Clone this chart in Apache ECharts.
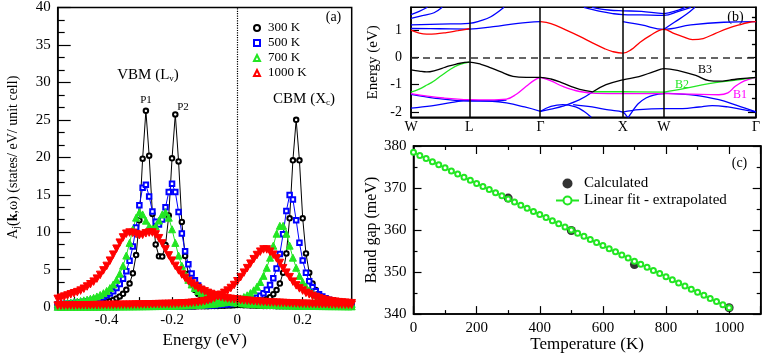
<!DOCTYPE html>
<html>
<head>
<meta charset="utf-8">
<script src="https://cdn.jsdelivr.net/npm/echarts@6/dist/echarts.min.js"></script>
<style>
  html, body { margin: 0; padding: 0; background: #fff; }
  #main { width: 763px; height: 354px; }
</style>
</head>
<body>
<div id="main"></div>
<script>
// ---------- panel (a): spectral functions A_j(k,0) ----------
const energy = [
  -0.55,-0.54,-0.53,-0.52,-0.51,-0.50,-0.49,-0.48,-0.47,-0.46,
  -0.45,-0.44,-0.43,-0.42,-0.41,-0.40,-0.39,-0.38,-0.37,-0.36,
  -0.35,-0.34,-0.33,-0.32,-0.31,-0.30,-0.29,-0.28,-0.27,-0.26,
  -0.25,-0.24,-0.23,-0.22,-0.21,-0.20,-0.19,-0.18,-0.17,-0.16,
  -0.15,-0.14,-0.13,-0.12,-0.11,-0.10,-0.09,-0.08,-0.07,-0.06,
  -0.05,-0.04,-0.03,-0.02,-0.01,0.00,0.01,0.02,0.03,0.04,
  0.05,0.06,0.07,0.08,0.09,0.10,0.11,0.12,0.13,0.14,
  0.15,0.16,0.17,0.18,0.19,0.20,0.21,0.22,0.23,0.24,
  0.25,0.26,0.27,0.28,0.29,0.30,0.31,0.32,0.33,0.34,
  0.35
];
const vbm300 = [
  0.17,0.18,0.19,0.20,0.22,0.24,0.26,0.28,0.31,0.34,
  0.38,0.42,0.47,0.53,0.61,0.70,0.81,0.96,1.15,1.42,
  1.78,2.31,3.14,4.51,6.94,11.58,19.82,26.2,20.21,12.43,
  8.36,6.78,6.75,8.28,12.24,19.86,25.72,19.45,11.37,6.83,
  4.44,3.10,2.28,1.76,1.40,1.14,0.95,0.80,0.69,0.60,
  0.53,0.47,0.42,0.37,0.34,0.31,0.28,0.26,0.24,0.22,
  0.20,0.19,0.18,0.16,0.15,0.145,0.14,0.13,0.125,0.12,
  0.11,0.105,0.10,0.095,0.09,0.09,0.085,0.08,0.08,0.075,
  0.075,0.07,0.07,0.068,0.066,0.064,0.062,0.06,0.058,0.056,
  0.054
];
const cbm300 = [
  0.017,0.017,0.018,0.018,0.019,0.019,0.02,0.02,0.021,0.022,
  0.023,0.023,0.024,0.025,0.026,0.027,0.028,0.029,0.03,0.031,
  0.032,0.033,0.035,0.036,0.037,0.039,0.04,0.042,0.044,0.047,
  0.049,0.051,0.054,0.056,0.059,0.062,0.066,0.069,0.073,0.078,
  0.083,0.088,0.094,0.10,0.107,0.115,0.123,0.133,0.144,0.156,
  0.169,0.185,0.203,0.224,0.248,0.276,0.309,0.348,0.395,0.452,
  0.52,0.61,0.72,0.87,1.07,1.33,1.72,2.28,3.15,4.6,
  7.16,11.86,19.6,25.0,19.6,11.86,7.16,4.6,3.15,2.28,
  1.72,1.33,1.07,0.87,0.72,0.61,0.52,0.45,0.40,0.35,
  0.31
];
const vbm500 = [
  0.37,0.40,0.42,0.46,0.49,0.54,0.58,0.64,0.70,0.77,
  0.85,0.95,1.06,1.20,1.36,1.57,1.82,2.13,2.55,3.08,
  3.80,4.79,6.18,8.09,10.63,13.59,15.94,16.32,14.78,12.76,
  11.38,11.02,11.69,13.34,15.36,16.46,15.37,12.70,9.81,7.45,
  5.71,4.47,3.57,2.90,2.41,2.03,1.74,1.50,1.31,1.15,
  1.03,0.92,0.83,0.75,0.68,0.62,0.57,0.52,0.48,0.45,
  0.41,0.39,0.36,0.34,0.31,0.30,0.28,0.26,0.25,0.23,
  0.22,0.21,0.20,0.19,0.18,0.17,0.165,0.16,0.15,0.145,
  0.14,0.135,0.13,0.125,0.12,0.12,0.115,0.11,0.11,0.105,
  0.10
];
const cbm500 = [
  0.029,0.03,0.03,0.031,0.032,0.033,0.034,0.035,0.036,0.038,
  0.039,0.04,0.041,0.043,0.044,0.046,0.048,0.049,0.051,0.053,
  0.055,0.058,0.06,0.062,0.065,0.068,0.071,0.074,0.078,0.081,
  0.085,0.089,0.093,0.098,0.103,0.11,0.115,0.12,0.13,0.14,
  0.15,0.16,0.17,0.18,0.19,0.21,0.22,0.24,0.26,0.29,
  0.31,0.34,0.38,0.42,0.47,0.53,0.59,0.68,0.78,0.90,
  1.06,1.25,1.51,1.85,2.31,2.94,3.85,5.16,7.08,9.74,
  12.84,14.96,14.37,11.61,8.59,6.23,4.58,3.45,2.66,2.11,
  1.70,1.40,1.17,0.99,0.85,0.74,0.64,0.57,0.50,0.45,
  0.40
];
const vbm700 = [
  0.46,0.49,0.53,0.58,0.62,0.68,0.74,0.82,0.90,1.00,
  1.12,1.25,1.42,1.62,1.86,2.16,2.54,3.02,3.64,4.46,
  5.52,6.88,8.57,10.39,11.94,12.66,12.37,11.54,10.79,10.5,
  10.79,11.55,12.37,12.66,11.94,10.39,8.57,6.88,5.52,4.46,
  3.64,3.02,2.54,2.16,1.86,1.62,1.42,1.25,1.12,1.00,
  0.90,0.82,0.74,0.68,0.62,0.58,0.53,0.49,0.46,0.43,
  0.40,0.37,0.35,0.33,0.31,0.29,0.28,0.26,0.25,0.24,
  0.22,0.21,0.20,0.19,0.18,0.17,0.165,0.16,0.15,0.145,
  0.14,0.135,0.13,0.125,0.12,0.12,0.115,0.11,0.105,0.10,
  0.10
];
const cbm700 = [
  0.042,0.043,0.045,0.046,0.047,0.049,0.05,0.052,0.053,0.055,
  0.057,0.059,0.061,0.063,0.066,0.068,0.071,0.074,0.077,0.08,
  0.083,0.087,0.09,0.095,0.10,0.105,0.11,0.115,0.12,0.127,
  0.135,0.14,0.15,0.16,0.17,0.18,0.19,0.20,0.21,0.23,
  0.245,0.26,0.28,0.30,0.33,0.36,0.39,0.43,0.46,0.51,
  0.57,0.63,0.70,0.79,0.89,1.01,1.16,1.35,1.58,1.87,
  2.24,2.72,3.35,4.17,5.25,6.6,8.2,9.8,10.85,10.85,
  9.8,8.2,6.6,5.25,4.17,3.35,2.72,2.24,1.87,1.58,
  1.35,1.16,1.01,0.89,0.79,0.70,0.63,0.57,0.51,0.46,
  0.42
];
const vbm1000 = [
  1.1,1.25,1.4,1.55,1.7,1.85,2.0,2.2,2.45,2.75,
  3.05,3.4,3.8,4.3,4.9,5.5,6.2,7.0,7.8,8.6,
  9.3,9.8,9.95,9.9,9.75,9.6,9.65,9.85,9.95,9.95,
  9.7,9.2,8.5,7.7,6.9,6.2,5.5,4.9,4.35,3.9,
  3.5,3.15,2.85,2.55,2.3,2.1,1.9,1.75,1.6,1.45,
  1.35,1.25,1.15,1.1,1.05,1.0,0.95,0.9,0.86,0.82,
  0.78,0.75,0.72,0.69,0.66,0.63,0.61,0.59,0.57,0.55,
  0.53,0.51,0.49,0.48,0.46,0.45,0.44,0.43,0.42,0.41,
  0.40,0.39,0.38,0.37,0.36,0.35,0.34,0.335,0.33,0.325,
  0.32
];
const cbm1000 = [
  0.2,0.2,0.21,0.21,0.22,0.22,0.23,0.23,0.24,0.24,
  0.25,0.26,0.26,0.27,0.28,0.28,0.29,0.29,0.3,0.3,
  0.31,0.32,0.32,0.33,0.34,0.34,0.35,0.36,0.37,0.38,
  0.39,0.4,0.41,0.42,0.43,0.44,0.45,0.47,0.49,0.51,
  0.54,0.57,0.61,0.66,0.72,0.79,0.9,1.03,1.22,1.45,
  1.65,1.9,2.2,2.55,2.95,3.45,4.0,4.6,5.2,5.8,
  6.4,6.95,7.4,7.7,7.7,7.4,7.0,6.5,5.9,5.2,
  4.6,4.0,3.4,2.9,2.5,2.2,1.9,1.7,1.5,1.35,
  1.2,1.05,0.95,0.85,0.78,0.72,0.66,0.62,0.58,0.55,
  0.52
];
const energyTicks = [-0.5, -0.4, -0.3, -0.2, -0.1, 0, 0.1, 0.2, 0.3];
const energyLabels = [-0.4, -0.2, 0, 0.2];

// ---------- panel (b): band structure ----------
const kPos = [0, 0.707, 1.573, 2.573, 3.073, 4.191];
const kLabels = ['W', 'L', 'Γ', 'X', 'W', 'Γ'];
const bandTicks = [-2, -1, 0, 1];
const bandMinorTicks = [-1.5, -0.5, 0.5, 1.5];
const redBands = [
  [[0,1.01],[0.1,0.9],[0.19,0.86],[0.3,0.87],[0.43,0.92],[0.57,0.99],[0.707,1.06]],
  [[1.573,1.32],[1.7,1.25],[1.886,1.01],[2.05,0.78],[2.21,0.53],[2.35,0.33],[2.45,0.22],[2.573,0.16],
   [2.68,0.3],[2.77,0.53],[2.9,0.8],[3.073,1.04],[3.2,0.88],[3.3,0.77],[3.42,0.66],[3.55,0.7],
   [3.7,0.89],[3.85,1.07],[3.985,1.2],[4.1,1.29],[4.191,1.32]]
];
const blueBands = [
  [[0,1.07],[0.35,1.06],[0.707,1.05],[1.0,1.14],[1.3,1.26],[1.573,1.32]],
  [[0,1.2],[0.35,1.23],[0.707,1.26],[0.85,1.36],[0.97,1.5],[1.13,1.85]],
  [[0,1.44],[0.15,1.55],[0.28,1.65],[0.38,1.85]],
  [[0,1.58],[0.1,1.7],[0.2,1.85]],
  [[2.1,1.85],[2.3,1.7],[2.45,1.62],[2.573,1.58],[2.8,1.57],[3.073,1.55],[3.25,1.7],[3.4,1.85]],
  [[2.2,1.85],[2.4,1.75],[2.573,1.72],[2.8,1.7],[3.073,1.62],[3.25,1.75],[3.33,1.85]],
  [[2.573,1.32],[2.8,1.2],[3.073,1.04],[3.4,1.2],[3.8,1.3],[4.191,1.32]],
  [[3.073,1.04],[3.2,1.3],[3.35,1.6],[3.45,1.85]],
  [[0,-1.36],[0.3,-1.5],[0.707,-1.6],[1.0,-1.6],[1.16,-1.57]],
  [[0,-1.86],[0.25,-1.78],[0.5,-1.65],[0.707,-1.58],[0.95,-1.6],[1.16,-1.67],[1.38,-1.82],[1.573,-1.98]],
  [[1.573,-1.98],[1.7,-1.9],[1.845,-1.79],[2.05,-1.55],[2.21,-1.26]],
  [[1.573,-1.98],[1.7,-1.8],[1.845,-1.73],[2.0,-1.82],[2.1,-1.98],[2.19,-2.2]],
  [[1.97,-1.73],[2.2,-1.82],[2.4,-1.93],[2.573,-2.01],[2.63,-2.2]],
  [[2.64,-2.2],[2.69,-1.98],[2.76,-1.7],[2.855,-1.49],[2.95,-1.38],[3.073,-1.33]],
  [[2.573,-2.01],[2.77,-1.92],[3.073,-1.88],[3.3,-1.88],[3.5,-1.82],[3.66,-1.77],[3.85,-1.82],[4.05,-1.93],[4.191,-2.0]],
  [[3.073,-1.31],[3.46,-1.39],[3.74,-1.55],[3.95,-1.75],[4.191,-2.0]]
];
const blackBands = [
  [[0,-0.45],[0.1,-0.5],[0.19,-0.53],[0.3,-0.47],[0.42,-0.35],[0.55,-0.24],[0.707,-0.17],[0.85,-0.25],
   [0.97,-0.38],[1.078,-0.51],[1.239,-0.69],[1.4,-0.73],[1.573,-0.73],[1.7,-0.79],[1.845,-0.94],
   [1.95,-1.07],[2.05,-1.17],[2.21,-1.26]],
  [[2.21,-1.26],[2.37,-1.0],[2.573,-0.82],[2.77,-0.7],[2.95,-0.52],[3.073,-0.41],[3.26,-0.49],[3.46,-0.66],
   [3.62,-0.85],[3.75,-0.87],[3.87,-0.83],[4.0,-0.78],[4.191,-0.73]]
];
const greenBands = [
  [[0,-1.27],[0.1,-1.16],[0.2,-1.0],[0.27,-0.88],[0.37,-0.66],[0.47,-0.45],[0.58,-0.27],[0.707,-0.17]],
  [[2.21,-1.26],[2.573,-1.26],[3.073,-1.27]],
  [[3.073,-1.27],[3.3,-1.15],[3.62,-0.96],[3.9,-0.85],[4.191,-0.73]]
];
const magentaBands = [
  [[0,-1.33],[0.2,-1.42],[0.4,-1.49],[0.707,-1.55],[0.95,-1.56],[1.16,-1.53],[1.28,-1.35],[1.40,-1.06],[1.5,-0.83],[1.573,-0.73]],
  [[1.573,-0.73],[1.7,-0.86],[1.845,-1.06],[2.05,-1.25],[2.25,-1.32],[2.573,-1.33],[3.073,-1.33],[3.4,-1.35],
   [3.74,-1.37],[3.85,-1.3],[3.94,-1.06],[4.05,-0.86],[4.191,-0.73]]
];

// ---------- panel (c): band gap vs temperature ----------
const tempCalc = [300, 500, 700, 1000];
const gapCalc = [367.6, 359.9, 351.8, 341.5];
const tempFit = [0,20,40,60,80,100,120,140,160,180,200,220,240,260,280,300,320,340,360,380,
  400,420,440,460,480,500,520,540,560,580,600,620,640,660,680,700,720,740,760,780,
  800,820,840,860,880,900,920,940,960,980,1000];
const gapFit = [378.50,377.76,377.02,376.28,375.54,374.80,374.06,373.32,372.58,371.84,
  371.10,370.36,369.62,368.88,368.14,367.40,366.66,365.92,365.18,364.44,
  363.70,362.96,362.22,361.48,360.74,360.00,359.26,358.52,357.78,357.04,
  356.30,355.56,354.82,354.08,353.34,352.60,351.86,351.12,350.38,349.64,
  348.90,348.16,347.42,346.68,345.94,345.20,344.46,343.72,342.98,342.24,341.50];

// ---------- styling ----------
const F = "'Liberation Serif', 'DejaVu Serif', serif";
const BLACK = '#000000', BLUE = '#0000ff', GREEN = '#22e622', RED = '#ff0000', MAGENTA = '#ff00ff';

const chart = echarts.init(document.getElementById('main'));

const axisLine = { onZero: false, lineStyle: { color: BLACK, width: 1.5 } };
const tickStyle = { color: BLACK, width: 1.2 };
const labelBase = { color: BLACK, fontFamily: F };

function specSeries(name, values, color, symbol, size, rotate, border) {
  return {
    name: name, type: 'line', xAxisIndex: 0, yAxisIndex: 0,
    data: energy.map((e, i) => [e, values[i]]),
    symbol: symbol, symbolSize: size, symbolRotate: rotate, showAllSymbol: true,
    lineStyle: { color: color, width: 1 },
    itemStyle: { color: color, borderColor: color, borderWidth: border },
    emphasis: { disabled: true }, silent: true
  };
}

function bandSeries(list, color) {
  return list.map(pts => ({
    type: 'line', xAxisIndex: 1, yAxisIndex: 1, data: pts,
    smooth: 0.4, showSymbol: false, silent: true,
    lineStyle: { color: color, width: 1.3 }
  }));
}

function nearestK(v) {
  let best = 0;
  kPos.forEach((p, i) => { if (Math.abs(p - v) < Math.abs(kPos[best] - v)) best = i; });
  return kLabels[best];
}

const series = [
  specSeries('300 K', vbm300, BLACK, 'emptyCircle', 4.5, 0, 1),
  specSeries('300 K', cbm300, BLACK, 'emptyCircle', 4.5, 0, 1),
  specSeries('500 K', vbm500, BLUE, 'emptyRect', 4.5, 0, 1.6),
  specSeries('500 K', cbm500, BLUE, 'emptyRect', 4.5, 0, 1.6),
  specSeries('700 K', vbm700, GREEN, 'triangle', 7, 0, 1),
  specSeries('700 K', cbm700, GREEN, 'triangle', 7, 0, 1),
  specSeries('1000 K', vbm1000, RED, 'triangle', 7.5, 180, 1),
  specSeries('1000 K', cbm1000, RED, 'triangle', 7.5, 180, 1)
];
series[0].markLine = {
  silent: true, symbol: 'none', label: { show: false },
  lineStyle: { color: BLACK, type: 'dotted', width: 1.2 },
  data: [{ xAxis: 0 }]
};

const bandList = [].concat(
  bandSeries(blueBands, BLUE),
  bandSeries(redBands, RED),
  bandSeries(magentaBands, MAGENTA),
  bandSeries(greenBands, GREEN),
  bandSeries(blackBands, BLACK)
);
bandList[0].markLine = {
  silent: true, symbol: 'none', label: { show: false },
  lineStyle: { color: BLACK, type: 'solid', width: 1.5 },
  data: kPos.slice(1, -1).map(k => ({ xAxis: k })).concat([
    { yAxis: 0, lineStyle: { color: '#333', type: [7, 5], width: 1.5 } }
  ])
};
series.push(...bandList);

series.push({
  name: 'Calculated', type: 'scatter', xAxisIndex: 2, yAxisIndex: 5,
  data: tempCalc.map((t, i) => [t, gapCalc[i]]),
  symbolSize: 9, itemStyle: { color: BLACK }, silent: true
});
series.push({
  name: 'Linear fit - extrapolated', type: 'line', xAxisIndex: 2, yAxisIndex: 5,
  data: tempFit.map((t, i) => [t, gapFit[i]]),
  symbol: 'emptyCircle', symbolSize: 5, showAllSymbol: true,
  lineStyle: { color: GREEN, width: 1.5 },
  itemStyle: { color: GREEN, borderColor: GREEN, borderWidth: 1.2 }, silent: true
});

const option = {
  animation: false,
  backgroundColor: '#fff',
  textStyle: { fontFamily: F },
  grid: [
    { left: 57.7, top: 7, width: 294, height: 308.7, show: true, borderColor: BLACK, borderWidth: 1.5 },
    { left: 411, top: 7.3, width: 345, height: 110, show: true, borderColor: BLACK, borderWidth: 1.5 },
    { left: 413.5, top: 146, width: 347.2, height: 168.3, show: true, borderColor: BLACK, borderWidth: 1.5 }
  ],
  xAxis: [
    { gridIndex: 0, type: 'value', min: -0.55, max: 0.35, axisLine: axisLine,
      axisTick: { inside: true, length: 10, customValues: energyTicks, lineStyle: tickStyle },
      axisLabel: Object.assign({ customValues: energyLabels, fontSize: 15, margin: 5 }, labelBase),
      splitLine: { show: false },
      name: 'Energy (eV)', nameLocation: 'middle', nameGap: 14,
      nameTextStyle: Object.assign({ fontSize: 17 }, labelBase) },
    { gridIndex: 1, type: 'value', min: 0, max: kPos[kPos.length - 1], axisLine: axisLine,
      axisTick: { show: false },
      axisLabel: Object.assign({ customValues: kPos, formatter: nearestK, fontSize: 14, margin: 3 }, labelBase),
      splitLine: { show: false } },
    { gridIndex: 2, type: 'value', min: 0, max: 1100, interval: 200, axisLine: axisLine,
      axisTick: { inside: true, length: 8, lineStyle: tickStyle },
      minorTick: { show: true, splitNumber: 2, length: 4, lineStyle: tickStyle },
      axisLabel: Object.assign({ fontSize: 15, margin: 6, showMaxLabel: false, formatter: v => String(v) }, labelBase),
      splitLine: { show: false },
      name: 'Temperature (K)', nameLocation: 'middle', nameGap: 17,
      nameTextStyle: Object.assign({ fontSize: 17 }, labelBase) },
    { gridIndex: 2, type: 'value', position: 'top', min: 0, max: 1100, interval: 200, axisLine: axisLine,
      axisTick: { inside: true, length: 8, lineStyle: tickStyle },
      minorTick: { show: true, splitNumber: 2, length: 4, lineStyle: tickStyle },
      axisLabel: { show: false }, splitLine: { show: false } }
  ],
  yAxis: [
    { gridIndex: 0, type: 'value', min: 0, max: 40, interval: 5, axisLine: axisLine,
      axisTick: { inside: true, length: 13, lineStyle: tickStyle },
      minorTick: { show: true, splitNumber: 3, length: 7, lineStyle: tickStyle },
      axisLabel: Object.assign({ fontSize: 15, margin: 7 }, labelBase),
      splitLine: { show: false },
      name: '{n|A}{s|j}{n|(}{b|k}{n|,ω) (states/ eV/ unit cell)}',
      nameLocation: 'middle', nameRotate: 90, nameGap: 36,
      nameTextStyle: {
        color: BLACK, fontFamily: F, fontSize: 14,
        rich: {
          n: { color: BLACK, fontFamily: F, fontSize: 14 },
          s: { color: BLACK, fontFamily: F, fontSize: 10, padding: [7, 0, 0, 0] },
          b: { color: BLACK, fontFamily: F, fontSize: 14, fontWeight: 'bold' }
        }
      } },
    { gridIndex: 1, type: 'value', min: -2.2, max: 1.85, axisLine: axisLine,
      axisTick: { inside: true, length: 8, customValues: bandTicks, lineStyle: tickStyle },
      axisLabel: Object.assign({ customValues: bandTicks, fontSize: 14, margin: 9 }, labelBase),
      splitLine: { show: false },
      name: 'Energy (eV)', nameLocation: 'middle', nameRotate: 90, nameGap: 30,
      nameTextStyle: Object.assign({ fontSize: 15 }, labelBase) },
    { gridIndex: 1, type: 'value', min: -2.2, max: 1.85, axisLine: { show: false, onZero: false },
      axisTick: { inside: true, length: 4, customValues: bandMinorTicks, lineStyle: tickStyle },
      axisLabel: { show: false }, splitLine: { show: false } },
    { gridIndex: 1, type: 'value', position: 'right', min: -2.2, max: 1.85, axisLine: axisLine,
      axisTick: { inside: true, length: 8, customValues: bandTicks, lineStyle: tickStyle },
      axisLabel: { show: false }, splitLine: { show: false } },
    { gridIndex: 1, type: 'value', position: 'right', min: -2.2, max: 1.85, axisLine: { show: false, onZero: false },
      axisTick: { inside: true, length: 4, customValues: bandMinorTicks, lineStyle: tickStyle },
      axisLabel: { show: false }, splitLine: { show: false } },
    { gridIndex: 2, type: 'value', min: 340, max: 380, interval: 10, axisLine: axisLine,
      axisTick: { inside: true, length: 8, lineStyle: tickStyle },
      minorTick: { show: true, splitNumber: 2, length: 4, lineStyle: tickStyle },
      axisLabel: Object.assign({ fontSize: 15, margin: 7 }, labelBase),
      splitLine: { show: false },
      name: 'Band gap (meV)', nameLocation: 'middle', nameRotate: 90, nameGap: 34,
      nameTextStyle: Object.assign({ fontSize: 16 }, labelBase) },
    { gridIndex: 2, type: 'value', position: 'right', min: 340, max: 380, interval: 10, axisLine: axisLine,
      axisTick: { inside: true, length: 8, lineStyle: tickStyle },
      minorTick: { show: true, splitNumber: 2, length: 4, lineStyle: tickStyle },
      axisLabel: { show: false }, splitLine: { show: false } }
  ],
  legend: [
    { data: [
        { name: '300 K', icon: 'emptyCircle' },
        { name: '500 K', icon: 'emptyRect' },
        { name: '700 K', icon: 'emptyTriangle' },
        { name: '1000 K', icon: 'emptyTriangle' }
      ],
      orient: 'vertical', left: 248, top: 16, itemWidth: 6, itemHeight: 6, itemGap: 1,
      selectedMode: false,
      itemStyle: { borderWidth: 1.2 },
      textStyle: Object.assign({ fontSize: 13, lineHeight: 14, padding: [0, 0, 0, 3] }, labelBase) },
    { data: [{ name: 'Calculated', icon: 'circle' }, { name: 'Linear fit - extrapolated' }],
      orient: 'vertical', left: 550, top: 171, itemWidth: 23, itemHeight: 10, itemGap: 2,
      selectedMode: false,
      textStyle: Object.assign({ fontSize: 15, lineHeight: 14 }, labelBase) }
  ],
  graphic: [
    { type: 'text', x: 148, y: 75, style: { text: '{n|VBM (L}{s|v}{n|)}', align: 'center', verticalAlign: 'middle',
      rich: { n: { fontFamily: F, fontSize: 15, fill: BLACK }, s: { fontFamily: F, fontSize: 9, fill: BLACK, padding: [7, 0, 0, 0] } } } },
    { type: 'text', x: 304, y: 99, style: { text: '{n|CBM (X}{s|c}{n|)}', align: 'center', verticalAlign: 'middle',
      rich: { n: { fontFamily: F, fontSize: 15, fill: BLACK }, s: { fontFamily: F, fontSize: 9, fill: BLACK, padding: [7, 0, 0, 0] } } } },
    { type: 'text', x: 146, y: 100, style: { text: 'P1', fontFamily: F, fontSize: 11, fill: BLACK, align: 'center', verticalAlign: 'middle' } },
    { type: 'text', x: 183, y: 107.5, style: { text: 'P2', fontFamily: F, fontSize: 11, fill: BLACK, align: 'center', verticalAlign: 'middle' } },
    { type: 'text', x: 333.5, y: 17.5, style: { text: '(a)', fontFamily: F, fontSize: 14, fill: BLACK, align: 'center', verticalAlign: 'middle' } },
    { type: 'text', x: 735.5, y: 17.5, style: { text: '(b)', fontFamily: F, fontSize: 14, fill: BLACK, align: 'center', verticalAlign: 'middle' } },
    { type: 'text', x: 739.5, y: 163.5, style: { text: '(c)', fontFamily: F, fontSize: 14, fill: BLACK, align: 'center', verticalAlign: 'middle' } },
    { type: 'text', x: 705, y: 70, style: { text: 'B3', fontFamily: F, fontSize: 12, fill: BLACK, align: 'center', verticalAlign: 'middle' } },
    { type: 'text', x: 682, y: 85, style: { text: 'B2', fontFamily: F, fontSize: 12, fill: GREEN, align: 'center', verticalAlign: 'middle' } },
    { type: 'text', x: 740, y: 95, style: { text: 'B1', fontFamily: F, fontSize: 12, fill: MAGENTA, align: 'center', verticalAlign: 'middle' } }
  ],
  series: series
};

chart.setOption(option);
</script>
</body>
</html>
